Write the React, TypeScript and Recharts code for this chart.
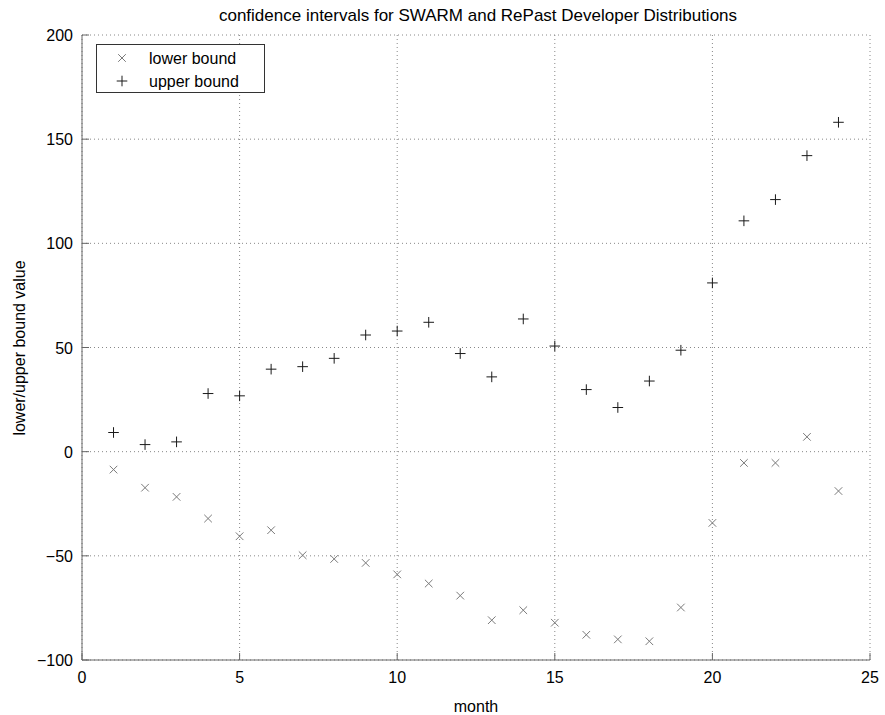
import {
  ScatterChart,
  Scatter,
  XAxis,
  YAxis,
  CartesianGrid,
  Legend,
} from "recharts";

// ===== DATA =====
const months = [1, 2, 3, 4, 5, 6, 7, 8, 9, 10, 11, 12, 13, 14, 15, 16, 17, 18, 19, 20, 21, 22, 23, 24];
const lowerBound = [
  -8.6, -17.3, -21.7, -32.1, -40.6, -37.7, -49.7, -51.5, -53.4, -58.9, -63.3, -69.1,
  -80.9, -76.1, -82.1, -87.9, -90.1, -91.0, -74.8, -34.2, -5.4, -5.4, 7.1, -18.9,
];
const upperBound = [
  9.2, 3.4, 4.7, 27.9, 26.8, 39.6, 40.8, 44.8, 56.0, 57.9, 62.1, 47.1,
  35.9, 63.7, 50.7, 29.8, 21.2, 33.9, 48.7, 81.0, 110.8, 121.0, 142.1, 158.1,
];
const xTicks = [0, 5, 10, 15, 20, 25];
const yTicks = [-100, -50, 0, 50, 100, 150, 200];

const lowerData = months.map((m, i) => ({ month: m, value: lowerBound[i] }));
const upperData = months.map((m, i) => ({ month: m, value: upperBound[i] }));

// ===== STYLE =====
const FONT = "'Liberation Sans', Arial, Helvetica, sans-serif";
const AXIS_COLOR = "#666";
const LOWER_COLOR = "#7a7a7a";
const UPPER_COLOR = "#1a1a1a";

// ===== MARKERS =====
const CrossMark = (props: any) => {
  const { cx, cy } = props;
  const r = 3.8;
  return (
    <path
      d={`M${cx - r},${cy - r}L${cx + r},${cy + r}M${cx - r},${cy + r}L${cx + r},${cy - r}`}
      stroke={LOWER_COLOR}
      strokeWidth={1}
      fill="none"
    />
  );
};

const PlusMark = (props: any) => {
  const { cx, cy } = props;
  const r = 5.3;
  return (
    <path
      d={`M${cx - r},${cy}L${cx + r},${cy}M${cx},${cy - r}L${cx},${cy + r}`}
      stroke={UPPER_COLOR}
      strokeWidth={1}
      fill="none"
    />
  );
};

// ===== TICKS (inward tick marks like matlab) =====
const XTick = (props: any) => {
  const { x, y, payload } = props;
  return (
    <g>
      <line x1={x} y1={y} x2={x} y2={y - 7} stroke={AXIS_COLOR} />
      <text x={x} y={y + 23} textAnchor="middle" fontSize={16} fill="#000" fontFamily={FONT}>
        {payload.value}
      </text>
    </g>
  );
};

const YTick = (props: any) => {
  const { x, y, payload } = props;
  const label = payload.value < 0 ? `\u2212${Math.abs(payload.value)}` : `${payload.value}`;
  return (
    <g>
      <line x1={x} y1={y} x2={x + 7} y2={y} stroke={AXIS_COLOR} />
      <text x={x - 9} y={y + 6} textAnchor="end" fontSize={16} fill="#000" fontFamily={FONT}>
        {label}
      </text>
    </g>
  );
};

// ===== LEGEND =====
const LegendBox = (props: any) => {
  const items = props.payload || [];
  return (
    <svg width={170} height={50} style={{ display: "block" }}>
      <rect x={0.5} y={0.5} width={168} height={48} fill="#fff" stroke="#333" />
      {items.map((item: any, i: number) => {
        const cy = 14 + i * 23;
        const cx = 26;
        return (
          <g key={i}>
            {i === 0 ? (
              <CrossMark cx={cx} cy={cy} />
            ) : (
              <PlusMark cx={cx} cy={cy} />
            )}
            <text x={53} y={cy + 6} fontSize={16} fill="#000" fontFamily={FONT}>
              {item.value}
            </text>
          </g>
        );
      })}
    </svg>
  );
};

// ===== COMPONENT =====
export default function App() {
  return (
    <div style={{ position: "absolute", left: 0, top: 0, width: 885, height: 715, background: "#fff" }}>
      <svg width={885} height={715} style={{ position: "absolute", left: 0, top: 0 }}>
        <text x={478} y={21} textAnchor="middle" fontSize={17} fill="#000" fontFamily={FONT}>
          confidence intervals for SWARM and RePast Developer Distributions
        </text>
        <text x={476} y={712} textAnchor="middle" fontSize={16} fill="#000" fontFamily={FONT}>
          month
        </text>
        <text
          x={25}
          y={348}
          textAnchor="middle"
          fontSize={16}
          fill="#000"
          fontFamily={FONT}
          transform="rotate(-90 25 348)"
        >
          lower/upper bound value
        </text>
      </svg>
      <ScatterChart
        width={885}
        height={715}
        margin={{ top: 35, right: 15, bottom: 25, left: 42 }}
        style={{ position: "absolute", left: 0, top: 0 }}
      >
        <CartesianGrid stroke="#888" strokeDasharray="1 3" />
        <XAxis
          type="number"
          dataKey="month"
          domain={[0, 25]}
          ticks={xTicks}
          interval={0}
          height={30}
          tickSize={0}
          tickMargin={0}
          tickLine={false}
          tick={<XTick />}
          axisLine={{ stroke: AXIS_COLOR }}
        />
        <YAxis
          type="number"
          dataKey="value"
          domain={[-100, 200]}
          ticks={yTicks}
          interval={0}
          width={40}
          tickSize={0}
          tickMargin={0}
          tickLine={false}
          tick={<YTick />}
          axisLine={{ stroke: AXIS_COLOR }}
        />
        <Legend
          layout="vertical"
          align="center"
          verticalAlign="middle"
          content={<LegendBox />}
          wrapperStyle={{ top: 44, left: 96, width: 170, height: 50 }}
        />
        <Scatter
          name="lower bound"
          data={lowerData}
          fill={LOWER_COLOR}
          shape={CrossMark}
          isAnimationActive={false}
        />
        <Scatter
          name="upper bound"
          data={upperData}
          fill={UPPER_COLOR}
          shape={PlusMark}
          isAnimationActive={false}
        />
      </ScatterChart>
    </div>
  );
}
